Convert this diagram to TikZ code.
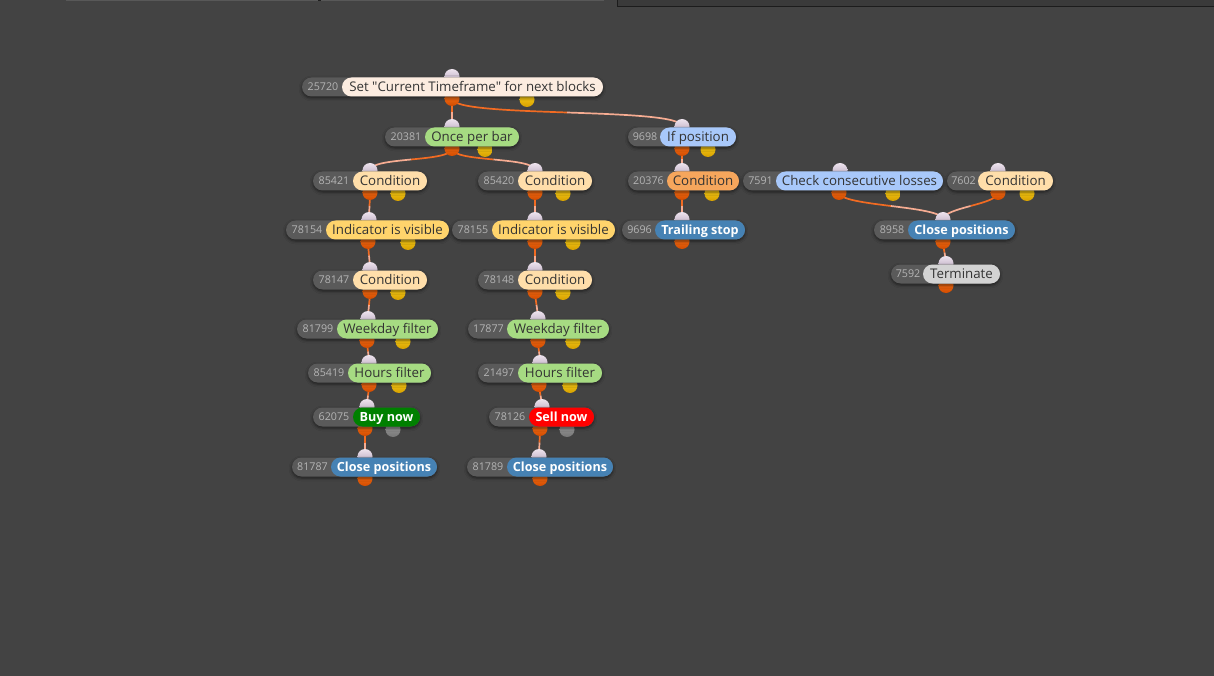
\documentclass[tikz,border=0pt]{standalone}
\usepackage{fontspec}
\setmainfont{Open Sans}[Ligatures=TeXOff]
\usetikzlibrary{calc,shadows.blur,backgrounds}
\definecolor{bgc}{HTML}{434343}
\definecolor{idfill}{HTML}{5A5A5A}
\definecolor{idtxt}{HTML}{B4B4B4}
\definecolor{darktxt}{HTML}{333333}
\definecolor{connA}{HTML}{F26B22}
\definecolor{connB}{HTML}{F6AC92}
\definecolor{inTop}{RGB}{238,228,238}
\definecolor{inBot}{RGB}{178,160,184}
\definecolor{outTop}{RGB}{255,122,30}
\definecolor{outBot}{RGB}{210,76,0}
\definecolor{yTop}{RGB}{255,214,30}
\definecolor{yBot}{RGB}{214,160,0}
\definecolor{gTop}{RGB}{160,160,160}
\definecolor{gBot}{RGB}{118,118,118}
\definecolor{fLinen}{RGB}{252,236,224}
\definecolor{fGreen}{RGB}{166,219,130}
\definecolor{fBlue}{RGB}{168,200,250}
\definecolor{fSandy}{RGB}{246,166,92}
\definecolor{fNavajo}{RGB}{255,222,170}
\definecolor{fGold}{RGB}{255,212,108}
\definecolor{fSteel}{RGB}{70,130,180}
\definecolor{fGray}{RGB}{211,211,211}
\definecolor{fBuy}{RGB}{0,128,0}
\definecolor{fSell}{RGB}{255,0,0}
\definecolor{barA}{RGB}{88,88,88}
\definecolor{barDot}{RGB}{30,30,30}
\definecolor{boxFill}{RGB}{58,58,58}
\definecolor{boxEdge}{RGB}{28,28,28}
\newcommand\ports[4]{%
  \node[inport] (i#1) at (#3,{#2-10.5}) {};
  \node[outport] (o#1) at (#4,{#2+11.5}) {};
}
\newcommand\sport[4]{%
  \node[#4] (y#1) at (#3,{#2+12.5}) {};
}
\newcommand\pill[7]{%
  \node[idpill, minimum width={#4-#2}] (g#1) at ({(#2+#4)/2},#5) {};
  \node[titlepill, #6, minimum width={#4-#3}] (b#1) at ({(#3+#4)/2},#5) {#7};
  \node[idtext] (t#1) at ({(#2+#3)/2+1},#5) {#1};
}
\newcommand\conn[3]{%
  \path (#1.center) coordinate (p0) (#2.center) coordinate (p3);
  \path ($(p0)+(0,#3)$) coordinate (p1) ($(p3)-(0,#3)$) coordinate (p2);
  \path ($0.125*(p0)+0.375*(p1)+0.375*(p2)+0.125*(p3)$) coordinate (pm)
        ($0.5*(p0)+0.5*(p1)$) coordinate (a1)
        ($0.25*(p0)+0.5*(p1)+0.25*(p2)$) coordinate (a2)
        ($0.25*(p1)+0.5*(p2)+0.25*(p3)$) coordinate (b1)
        ($0.5*(p2)+0.5*(p3)$) coordinate (b2);
  \draw[wireA] (p0) .. controls (a1) and (a2) .. (pm);
  \draw[wireB] (pm) .. controls (b1) and (b2) .. (p3);
}
\begin{document}
\begin{tikzpicture}[x=1pt,y=-1pt,
  inport/.style={circle, minimum size=15pt, inner sep=0pt, top color=inTop, bottom color=inBot},
  outport/.style={circle, minimum size=15pt, inner sep=0pt, top color=outTop, bottom color=outBot},
  yport/.style={circle, minimum size=15pt, inner sep=0pt, top color=yTop, bottom color=yBot},
  gport/.style={circle, minimum size=15pt, inner sep=0pt, top color=gTop, bottom color=gBot},
  idpill/.style={fill=idfill, rounded corners=9.5pt, minimum height=19pt, inner sep=0pt,
     blur shadow={shadow xshift=0pt, shadow yshift=-1.5pt, shadow blur radius=3pt, shadow opacity=55}},
  titlepill/.style={rounded corners=9.5pt, minimum height=19pt, inner sep=0pt, text=darktxt,
     text height=9.4pt, text depth=0pt, font=\fontsize{13.3}{15}\selectfont},
  idtext/.style={text=idtxt, font=\fontsize{10.7}{12}\selectfont, inner sep=0pt,
     text height=7.6pt, text depth=0pt},
  cLinen/.style={fill=fLinen},
  cGreen/.style={fill=fGreen},
  cBlue/.style={fill=fBlue},
  cSandy/.style={fill=fSandy},
  cNavajo/.style={fill=fNavajo},
  cGold/.style={fill=fGold},
  cSteel/.style={fill=fSteel, text=white, text height=9pt, font=\fontsize{12.6}{14}\selectfont\bfseries},
  cGray/.style={fill=fGray},
  cBuy/.style={fill=fBuy, text=white, text height=9pt, font=\fontsize{12.6}{14}\selectfont\bfseries},
  cSell/.style={fill=fSell, text=white, text height=9pt, font=\fontsize{12.6}{14}\selectfont\bfseries},
  wireA/.style={draw=connA, line width=1.7pt},
  wireB/.style={draw=connB, line width=1.7pt}
]
\useasboundingbox (0,0) rectangle (1214,676);
% ports
\ports{25720}{87}{452}{452}\sport{25720}{87}{527}{yport}
\ports{20381}{137}{452}{452}\sport{20381}{137}{485}{yport}
\ports{9698}{137}{682}{682}\sport{9698}{137}{708}{yport}
\ports{20376}{181}{682}{682}\sport{20376}{181}{712}{yport}
\ports{7591}{181}{840}{839}\sport{7591}{181}{893}{yport}
\ports{7602}{181}{998}{998}\sport{7602}{181}{1027}{yport}
\ports{9696}{230}{682}{682}
\ports{8958}{230}{943}{943}
\ports{7592}{274}{946}{946}
\ports{85421}{181}{370}{370}\sport{85421}{181}{398}{yport}
\ports{85420}{181}{535}{535}\sport{85420}{181}{563}{yport}
\ports{78154}{230}{369}{368}\sport{78154}{230}{408}{yport}
\ports{78155}{230}{535}{535}\sport{78155}{230}{573}{yport}
\ports{78147}{280}{370}{370}\sport{78147}{280}{398}{yport}
\ports{78148}{280}{535}{535}\sport{78148}{280}{563}{yport}
\ports{81799}{329}{368}{367}\sport{81799}{329}{403}{yport}
\ports{17877}{329}{538}{538}\sport{17877}{329}{573}{yport}
\ports{85419}{373}{369}{369}\sport{85419}{373}{399}{yport}
\ports{21497}{373}{540}{539}\sport{21497}{373}{570}{yport}
\ports{62075}{417}{367}{365}\sport{62075}{417}{393}{gport}
\ports{78126}{417}{542}{540}\sport{78126}{417}{567}{gport}
\ports{81787}{467}{365}{365}
\ports{81789}{467}{539}{540}
% pills
\pill{25720}{302}{342}{603}{87}{cLinen}{Set "Current Timeframe" for next blocks}
\pill{20381}{385}{425}{519}{137}{cGreen}{Once per bar}
\pill{9698}{628}{660}{736}{137}{cBlue}{If position}
\pill{20376}{628}{667}{739}{181}{cSandy}{Condition}
\pill{7591}{743}{776}{943}{181}{cBlue}{Check consecutive losses}
\pill{7602}{947}{978}{1053}{181}{cNavajo}{Condition}
\pill{9696}{622}{655}{745}{230}{cSteel}{Trailing stop}
\pill{8958}{874}{908}{1015}{230}{cSteel}{Close positions}
\pill{7592}{891}{923}{1000}{274}{cGray}{Terminate}
\pill{85421}{313}{353}{427}{181}{cNavajo}{Condition}
\pill{85420}{478}{518}{592}{181}{cNavajo}{Condition}
\pill{78154}{286}{326}{449}{230}{cGold}{Indicator is visible}
\pill{78155}{452}{492}{615}{230}{cGold}{Indicator is visible}
\pill{78147}{313}{353}{427}{280}{cNavajo}{Condition}
\pill{78148}{478}{518}{592}{280}{cNavajo}{Condition}
\pill{81799}{297}{337}{438}{329}{cGreen}{Weekday filter}
\pill{17877}{468}{507}{609}{329}{cGreen}{Weekday filter}
\pill{85419}{308}{348}{431}{373}{cGreen}{Hours filter}
\pill{21497}{478}{518}{602}{373}{cGreen}{Hours filter}
\pill{62075}{313}{353}{420}{417}{cBuy}{Buy now}
\pill{78126}{489}{529}{594}{417}{cSell}{Sell now}
\pill{81787}{292}{331}{437}{467}{cSteel}{Close positions}
\pill{81789}{467}{507}{613}{467}{cSteel}{Close positions}
% background and wires
\begin{pgfonlayer}{background}
  \fill[bgc] (0,0) rectangle (1214,676);
  \fill[barA] (66,0) rectangle (604,1.5);
  \fill[barDot] (318,0) rectangle (321,1.5);
  \fill[boxFill] (617,-1) rectangle (1214,6);
  \draw[boxEdge, line width=1pt] (617.5,-1) -- (617.5,6.5) -- (1215,6.5);
  \conn{o25720}{i20381}{5}
  \conn{o25720}{i9698}{20}
  \conn{o20381}{i85421}{14}
  \conn{o20381}{i85420}{14}
  \conn{o85421}{i78154}{6}
  \conn{o78154}{i78147}{6}
  \conn{o78147}{i81799}{6}
  \conn{o81799}{i85419}{6}
  \conn{o85419}{i62075}{6}
  \conn{o62075}{i81787}{6}
  \conn{o85420}{i78155}{6}
  \conn{o78155}{i78148}{6}
  \conn{o78148}{i17877}{6}
  \conn{o17877}{i21497}{6}
  \conn{o21497}{i78126}{6}
  \conn{o78126}{i81789}{6}
  \conn{o9698}{i20376}{6}
  \conn{o20376}{i9696}{6}
  \conn{o7591}{i8958}{14}
  \conn{o7602}{i8958}{12}
  \conn{o8958}{i7592}{6}
\end{pgfonlayer}
\end{tikzpicture}
\end{document}
